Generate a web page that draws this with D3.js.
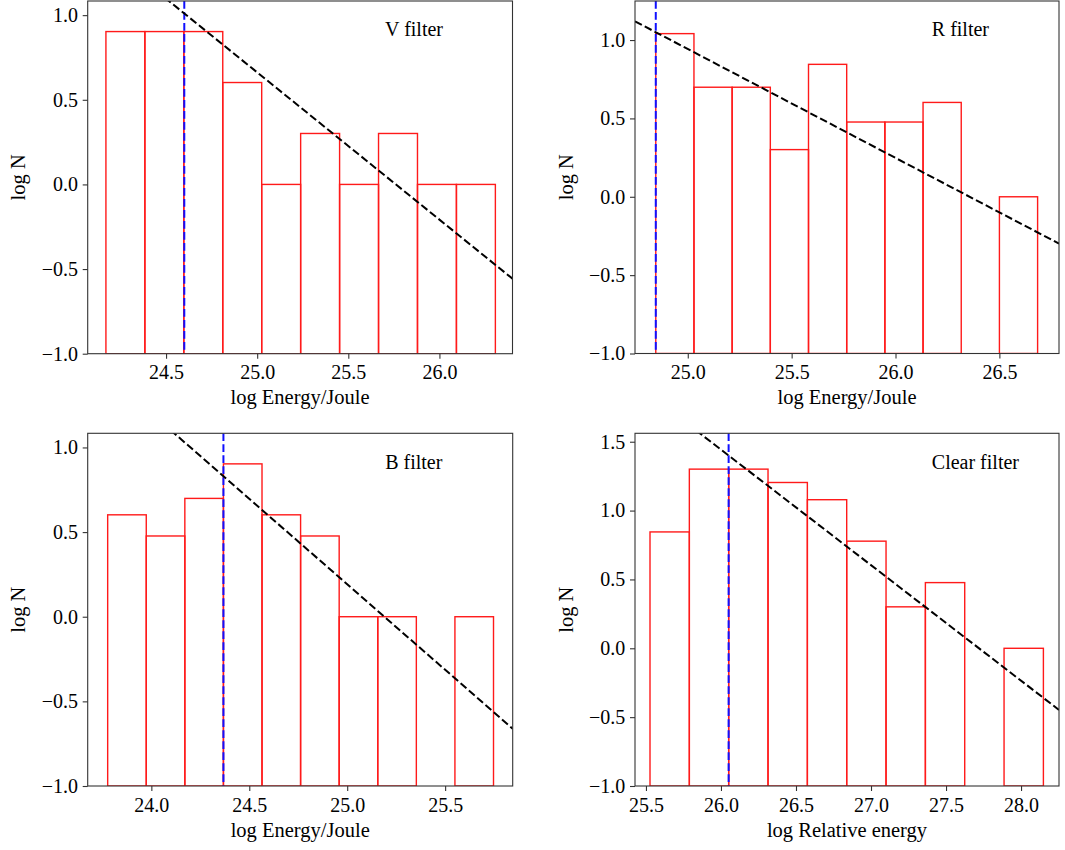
<!DOCTYPE html>
<html lang="en">
<head>
<meta charset="UTF-8">
<title>Flare energy distributions</title>
<script src="https://d3js.org/d3.v7.min.js"></script>
<style>
  body { margin: 0; background: #fff; }
  svg text { font-family: "Liberation Serif", "Times New Roman", Times, "DejaVu Serif", "Noto Serif", serif; fill: #000; }
</style>
</head>
<body>
<div id="chart"></div>
<script>
// titles and axis labels
const filters = ["V filter", "R filter", "B filter", "Clear filter"];
const xLabels = ["log Energy/Joule", "log Energy/Joule", "log Energy/Joule", "log Relative energy"];

// histogram bins: left edge of the first bin and bin width
const binStart = [24.170, 24.846, 23.777, 25.527];
const binWidth = [0.2137, 0.1838, 0.1970, 0.2622];

// log N per bin (null = empty bin, not drawn)
const logNV = [0.903, 0.903, 0.903, 0.602, 0, 0.301, 0, 0.301, 0, 0];
const logNR = [1.041, 0.699, 0.699, 0.301, 0.845, 0.477, 0.477, 0.602, null, 0];
const logNB = [0.602, 0.477, 0.699, 0.903, 0.602, 0.477, 0, 0, null, 0];
const logNClear = [0.845, 1.301, 1.301, 1.204, 1.079, 0.778, 0.301, 0.477, null, 0];
const logN = [logNV, logNR, logNB, logNClear];

// lower limit (blue) and power law fit (black): value at the limit + slope
const cutoff = [24.600, 24.846, 24.368, 26.051];
const fitAt = [1.01, 1.05, 0.83, 1.40];
const fitSlope = [-0.87, -0.695, -1.01, -0.839];

// axis ranges and ticks
const xDomains = [[24.070, 26.401], [24.746, 26.787], [23.675, 25.845], [25.427, 28.253]];
const yMin = -1;
const xTicks = [
  [24.5, 25.0, 25.5, 26.0],
  [25.0, 25.5, 26.0, 26.5],
  [24.0, 24.5, 25.0, 25.5],
  [25.5, 26.0, 26.5, 27.0, 27.5, 28.0]
];
const yTicks = [
  [-1.0, -0.5, 0.0, 0.5, 1.0],
  [-1.0, -0.5, 0.0, 0.5, 1.0],
  [-1.0, -0.5, 0.0, 0.5, 1.0],
  [-1.0, -0.5, 0.0, 0.5, 1.0, 1.5]
];

// pixel boxes of the four axes
const boxes = [
  { x0: 87.7, x1: 512.5, y0: 1, y1: 353.7 },
  { x0: 635, x1: 1059, y0: 1, y1: 353.5 },
  { x0: 87.7, x1: 512.7, y0: 433.3, y1: 786 },
  { x0: 635, x1: 1059, y0: 433.3, y1: 786 }
];

const serif = '"Liberation Serif", "Times New Roman", Times, "DejaVu Serif", "Noto Serif", serif';

const svg = d3.select("#chart").append("svg")
  .attr("width", 1065)
  .attr("height", 850)
  .attr("font-family", serif);

const fmt = d3.format(".1f");
const dash = "7.7,3.3";

boxes.forEach((b, i) => {
  const vals = logN[i];
  const yMax = 1.2 * d3.max(vals);

  const x = d3.scaleLinear().domain(xDomains[i]).range([b.x0, b.x1]);
  const y = d3.scaleLinear().domain([yMin, yMax]).range([b.y1, b.y0]);

  const g = svg.append("g");

  g.append("clipPath").attr("id", "clip" + i)
    .append("rect")
    .attr("x", b.x0).attr("y", b.y0)
    .attr("width", b.x1 - b.x0).attr("height", b.y1 - b.y0);

  const plot = g.append("g").attr("clip-path", `url(#clip${i})`);

  const bins = vals.map((v, j) => ({
    lo: binStart[i] + j * binWidth[i],
    hi: binStart[i] + (j + 1) * binWidth[i],
    v: v
  })).filter(d => d.v !== null);

  plot.selectAll(".bar")
    .data(bins)
    .enter()
    .append("rect")
    .attr("class", "bar")
    .attr("x", d => x(d.lo))
    .attr("y", d => y(d.v))
    .attr("width", d => x(d.hi) - x(d.lo))
    .attr("height", d => y(yMin) - y(d.v))
    .attr("fill", "none")
    .attr("stroke", "#ff1a1a")
    .attr("stroke-width", 1.4);

  // completeness limit
  plot.append("line")
    .attr("x1", x(cutoff[i])).attr("x2", x(cutoff[i]))
    .attr("y1", y(yMax)).attr("y2", y(yMin))
    .attr("stroke", "#1010ff")
    .attr("stroke-width", 2)
    .attr("stroke-dasharray", dash);

  // power law fit
  const fit = xv => fitAt[i] + fitSlope[i] * (xv - cutoff[i]);
  const ends = xDomains[i];
  plot.append("line")
    .attr("x1", x(ends[0])).attr("y1", y(fit(ends[0])))
    .attr("x2", x(ends[1])).attr("y2", y(fit(ends[1])))
    .attr("stroke", "#000")
    .attr("stroke-width", 2)
    .attr("stroke-dasharray", dash);

  // axes
  const ax = g.append("g")
    .attr("transform", `translate(0,${b.y1})`)
    .call(d3.axisBottom(x).tickValues(xTicks[i]).tickFormat(fmt).tickSize(5).tickPadding(6.5));
  const ay = g.append("g")
    .attr("transform", `translate(${b.x0},0)`)
    .call(d3.axisLeft(y).tickValues(yTicks[i]).tickFormat(fmt).tickSize(5).tickPadding(4.7));

  [ax, ay].forEach(a => {
    a.attr("font-family", serif).attr("font-size", 20);
    a.select(".domain").remove();
    a.selectAll(".tick line").attr("stroke", "#333").attr("stroke-width", 1.1);
    a.selectAll(".tick text").attr("fill", "#000");
  });

  g.append("rect")
    .attr("x", b.x0).attr("y", b.y0)
    .attr("width", b.x1 - b.x0).attr("height", b.y1 - b.y0)
    .attr("fill", "none")
    .attr("stroke", "#333")
    .attr("stroke-width", 1.1);

  g.append("text")
    .attr("x", b.x0 + 0.7 * (b.x1 - b.x0))
    .attr("y", b.y0 + 0.1 * (b.y1 - b.y0))
    .attr("font-size", 20)
    .text(filters[i]);

  g.append("text")
    .attr("x", (b.x0 + b.x1) / 2)
    .attr("y", b.y1 + 50.5)
    .attr("text-anchor", "middle")
    .attr("font-size", 20.5)
    .text(xLabels[i]);

  g.append("text")
    .attr("transform", `translate(${b.x0 - 62.5},${(b.y0 + b.y1) / 2}) rotate(-90)`)
    .attr("text-anchor", "middle")
    .attr("font-size", 20.5)
    .text("log N");
});
</script>
</body>
</html>
